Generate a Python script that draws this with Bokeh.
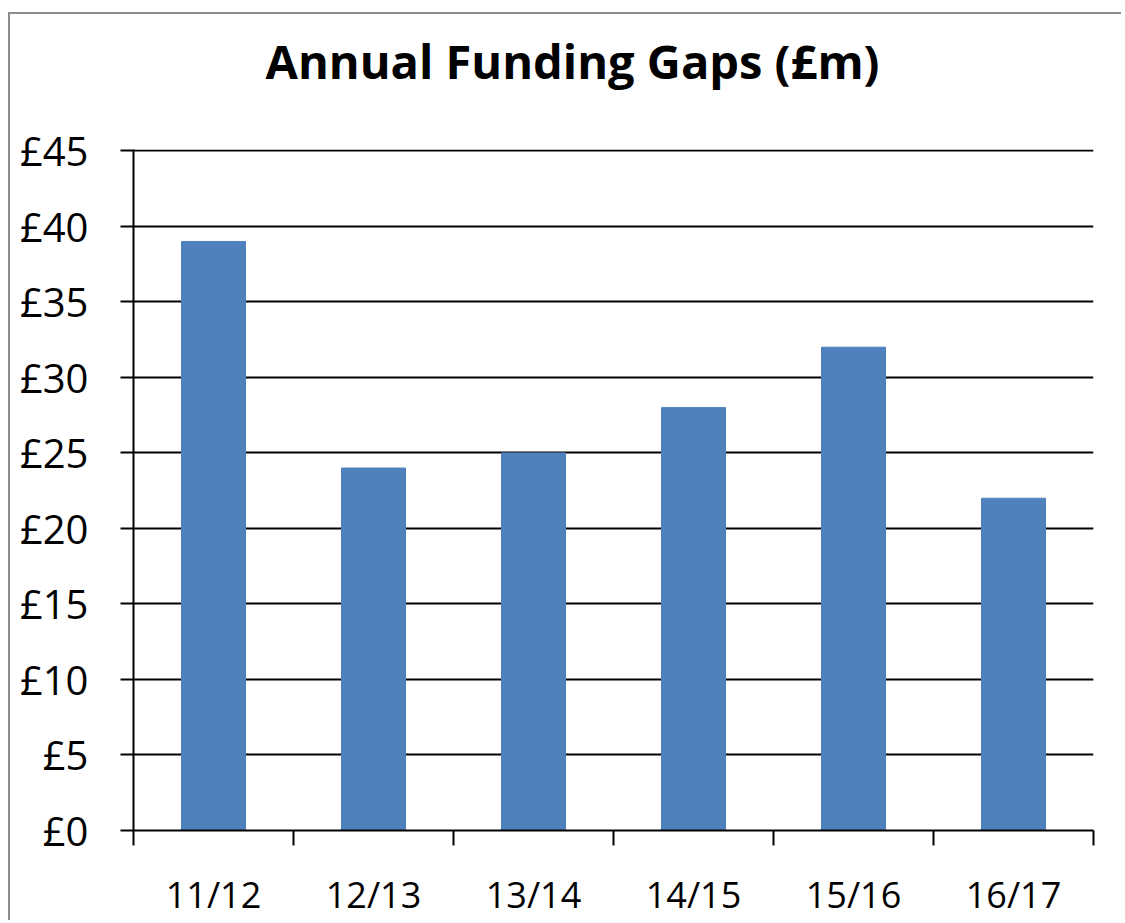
from bokeh.plotting import figure
from bokeh.models import FixedTicker, Range1d, Title
from bokeh.embed import file_html
from bokeh.resources import INLINE

title_text = "Annual Funding Gaps (£m)"
categories = ["11/12", "12/13", "13/14", "14/15", "15/16", "16/17"]
values = [39, 24, 25, 28, 32, 22]
y_ticks = [0, 5, 10, 15, 20, 25, 30, 35, 40, 45]
y_tick_labels = ["£0", "£5", "£10", "£15", "£20", "£25", "£30", "£35", "£40", "£45"]

centers = [i + 0.5 for i in range(len(categories))]
bounds = list(range(len(categories) + 1))

FONT = "Open Sans"

p = figure(width=1113, height=908, output_backend="svg", toolbar_location=None,
           x_range=Range1d(0, len(categories)),
           y_range=Range1d(y_ticks[0], y_ticks[-1] * 1.002),
           min_border_left=123, min_border_right=30, min_border_top=135, min_border_bottom=92)
p.styles = {"margin-left": "8px", "margin-top": "12px",
            "border-left": "2px solid #8c8c8c", "border-top": "2px solid #8c8c8c"}

p.vbar(x=centers, top=values, width=0.4, color="#4F81BD")

p.outline_line_color = None
p.background_fill_color = "white"
p.border_fill_color = "white"

# spacer (closest to frame) then the real title
p.add_layout(Title(text=" ", text_font_size="1px", standoff=54), "above")
p.add_layout(Title(text=title_text, text_font=FONT, text_font_size="47px",
                   text_font_style="bold", text_color="black",
                   align="left", offset=132, standoff=0), "above")

xa = p.xaxis[0]
xa.ticker = FixedTicker(ticks=centers, minor_ticks=bounds)
xa.major_label_overrides = {c: lab for c, lab in zip(centers, categories)}
xa.major_tick_in = 0
xa.major_tick_out = 0
xa.minor_tick_in = 0
xa.minor_tick_out = 15
xa.minor_tick_line_color = "black"
xa.minor_tick_line_width = 2
xa.axis_line_color = "black"
xa.axis_line_width = 2
xa.major_label_text_font = FONT
xa.major_label_text_font_size = "36px"
xa.major_label_text_color = "black"
xa.major_label_standoff = 24

ya = p.yaxis[0]
ya.ticker = FixedTicker(ticks=y_ticks)
ya.major_label_overrides = {t: lab for t, lab in zip(y_ticks, y_tick_labels)}
ya.major_tick_in = 0
ya.major_tick_out = 13
ya.major_tick_line_color = "black"
ya.major_tick_line_width = 2
ya.minor_tick_line_color = None
ya.axis_line_color = "black"
ya.axis_line_width = 2
ya.major_label_text_font = FONT
ya.major_label_text_font_size = "40px"
ya.major_label_text_color = "black"
ya.major_label_standoff = 32

p.xgrid.grid_line_color = None
p.ygrid.ticker = FixedTicker(ticks=y_ticks)
p.ygrid.grid_line_color = "black"
p.ygrid.grid_line_width = 2

open("out.html", "w").write(file_html(p, INLINE))
